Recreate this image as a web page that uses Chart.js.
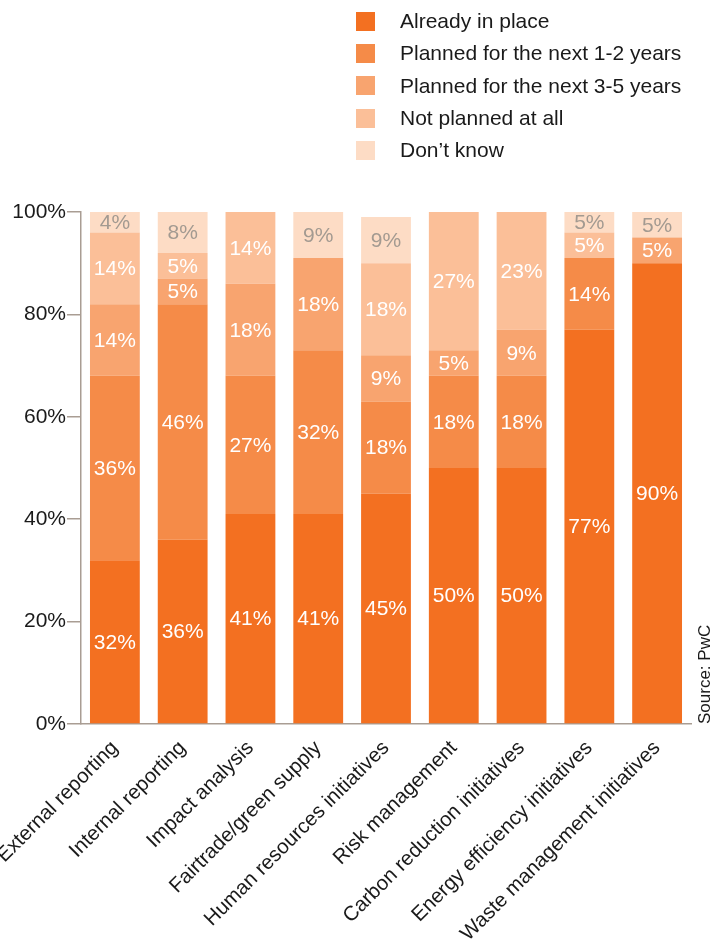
<!DOCTYPE html>
<html lang="en">
<head>
  <meta charset="UTF-8">
  <title>Initiatives</title>
  <script src="https://cdn.jsdelivr.net/npm/chart.js@4.4.1/dist/chart.umd.min.js"></script>
  <style>
    body { margin: 0; background: #fff; font-family: "Liberation Sans", Arial, sans-serif; }
    .wrap { position: relative; width: 722px; height: 945px; overflow: hidden; }
    #legend { position: absolute; left: 356px; top: 5px; margin: 0; padding: 0; list-style: none; }
    #legend li { height: 32.3px; display: flex; align-items: center; font-size: 21px; color: #1a1a1a; }
    #legend span { display: inline-block; width: 19px; height: 19px; margin-right: 25px; }
    .source { position: absolute; left: 695px; top: 724px; transform-origin: 0 0; transform: rotate(-90deg);
              font-size: 17px; color: #1a1a1a; white-space: nowrap; }
  </style>
</head>
<body>
  <div class="wrap">
    <canvas id="chart" width="722" height="945"></canvas>
    <ul id="legend"></ul>
    <div class="source">Source: PwC</div>
  </div>
  <script>
    const categories = ['External reporting', 'Internal reporting', 'Impact analysis', 'Fairtrade/green supply',
      'Human resources initiatives', 'Risk management', 'Carbon reduction initiatives',
      'Energy efficiency initiatives', 'Waste management initiatives'];
    const alreadyInPlace = [32, 36, 41, 41, 45, 50, 50, 77, 90];
    const nextOneTwo     = [36, 46, 27, 32, 18, 18, 18, 14, 0];
    const nextThreeFive  = [14, 5, 18, 18, 9, 5, 9, 0, 5];
    const notPlanned     = [14, 5, 14, 0, 18, 27, 23, 5, 0];
    const dontKnow       = [4, 8, 0, 9, 9, 0, 0, 5, 5];
    const yTicks = [0, 20, 40, 60, 80, 100];

    const font = '"Liberation Sans", Arial, sans-serif';
    const axisGrey = '#a99d93';

    const series = [
      { label: 'Already in place', data: alreadyInPlace, color: '#f37021', text: '#ffffff' },
      { label: 'Planned for the next 1-2 years', data: nextOneTwo, color: '#f58b48', text: '#ffffff' },
      { label: 'Planned for the next 3-5 years', data: nextThreeFive, color: '#f8a46f', text: '#ffffff' },
      { label: 'Not planned at all', data: notPlanned, color: '#fbbf98', text: '#ffffff' },
      { label: 'Don\u2019t know', data: dontKnow, color: '#fddcc5', text: '#a39a91' }
    ];

    // draw the % value in the middle of each segment
    const segmentLabels = {
      id: 'segmentLabels',
      afterDatasetsDraw(chart) {
        const ctx = chart.ctx;
        ctx.save();
        ctx.font = '21px ' + font;
        ctx.textAlign = 'center';
        ctx.textBaseline = 'middle';
        chart.data.datasets.forEach((ds, i) => {
          chart.getDatasetMeta(i).data.forEach((bar, j) => {
            const v = ds.data[j];
            if (!v) return;
            const top = Math.max(bar.y, chart.chartArea.top);
            ctx.fillStyle = series[i].text;
            ctx.fillText(v + '%', bar.x, (top + bar.base) / 2 + 1);
          });
        });
        ctx.restore();
      }
    };

    const chart = new Chart(document.getElementById('chart'), {
      type: 'bar',
      data: {
        labels: categories,
        datasets: series.map(s => ({
          label: s.label,
          data: s.data,
          backgroundColor: s.color,
          borderWidth: 0,
          categoryPercentage: 1,
          barPercentage: 0.735
        }))
      },
      options: {
        responsive: false,
        animation: false,
        layout: { padding: { top: 212, right: 31, left: 0, bottom: 0 } },
        plugins: { legend: { display: false }, tooltip: { enabled: false } },
        scales: {
          x: {
            stacked: true,
            grid: { display: false },
            border: { display: true, color: axisGrey, width: 1.5 },
            ticks: { color: '#1a1a1a', font: { family: font, size: 20.5 }, minRotation: 45, maxRotation: 45, padding: 4 },
            afterFit(scale) {
              scale.height = 221;
              // first label runs off the left edge, as in the original
              scale.paddingLeft = 0;
              scale.paddingRight = 0;
            }
          },
          y: {
            stacked: true,
            min: 0,
            max: 100,
            afterBuildTicks(scale) { scale.ticks = yTicks.map(v => ({ value: v })); },
            grid: { drawOnChartArea: false, color: axisGrey, tickLength: 14, lineWidth: 1.5 },
            border: { display: true, color: axisGrey, width: 1.5 },
            ticks: { color: '#1a1a1a', font: { family: font, size: 21 }, padding: 1, callback: v => v + '%' },
            afterFit(scale) { scale.width = 81; }
          }
        }
      },
      plugins: [segmentLabels]
    });

    const legend = document.getElementById('legend');
    series.forEach(s => {
      const li = document.createElement('li');
      li.innerHTML = '<span style="background:' + s.color + '"></span>' + s.label;
      legend.appendChild(li);
    });
  </script>
</body>
</html>
